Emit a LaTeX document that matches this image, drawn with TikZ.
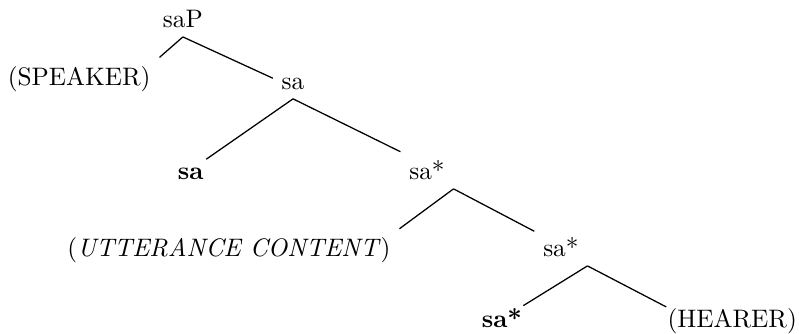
\documentclass[tikz,border=0pt]{standalone}
\usepackage{amsmath}
\usepackage{tikz}

\begin{document}
\begin{tikzpicture}[every node/.style={anchor=base}]
\useasboundingbox (0,0) rectangle (11.097,4.625);
\node (saP) at (2.54,4.24) {saP};
\node (speaker) at (1.10,3.44) {(SPEAKER)};
\node (sa) at (4.07,3.38) {sa};
\node (saleaf) at (2.65,2.13) {\textbf{sa}};
\node (sastar) at (5.93,2.13) {sa*};
\node (content) at (3.18,1.06) {(\textit{UTTERANCE CONTENT})};
\node (sastarb) at (7.79,1.06) {sa*};
\node (saleafstar) at (6.97,0.08) {\textbf{sa*}};
\node (hearer) at (10.17,0.08) {(HEARER)};

\draw[line width=0.5pt] (saP.south) to (speaker.north east);
\draw[line width=0.5pt] (saP.south) to ([yshift=-3.5pt]sa.north west);
\draw[line width=0.5pt] (sa.south) to ([xshift=-2.5pt]saleaf.north east);
\draw[line width=0.5pt] (sa.south) to (sastar.north west);
\draw[line width=0.5pt] (sastar.south east) to (content.north east);
\draw[line width=0.5pt] (sastar.south east) to ([yshift=-1pt]sastarb.north west);
\draw[line width=0.5pt] (sastarb.south east) to ([xshift=-3pt,yshift=-2.5pt]saleafstar.north east);
\draw[line width=0.5pt] (sastarb.south east) to ([xshift=3pt,yshift=-3pt]hearer.north west);
\end{tikzpicture}
\end{document}
